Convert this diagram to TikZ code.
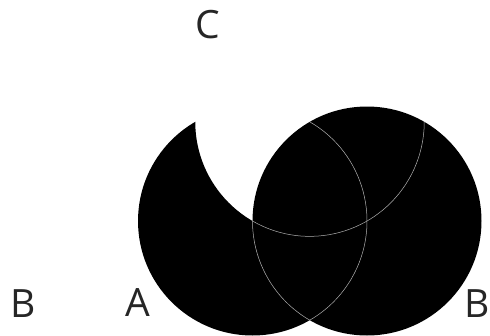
\documentclass[tikz,border=0pt]{standalone}
\usepackage{fontspec}
\setmainfont{Open Sans}
\begin{document}
\begin{tikzpicture}[x=1pt,y=1pt,
  lbl/.style={font=\fontsize{39}{41}\selectfont, text=black!85, inner sep=0pt},
  seam/.style={draw=gray!60, line width=0.5pt}]
\useasboundingbox (0,0) rectangle (490,-335);
\def\r{114.5}
\coordinate (a) at (252.5,-221);
\coordinate (b) at (367,-221);
\coordinate (c) at (309.75,-121.84);
% A minus C
\begin{scope}[even odd rule]
  \clip (-10,10) rectangle (500,-345) (c) circle[radius=\r];
  \fill[black] (a) circle[radius=\r];
\end{scope}
% B
\fill[black] (b) circle[radius=\r];
% seams
\draw[seam] (c) arc[start angle=60, end angle=-60, radius=\r];
\draw[seam] (a) arc[start angle=180, end angle=240, radius=\r];
\draw[seam] (a) arc[start angle=240, end angle=360, radius=\r];
% labels
\node[lbl] (lc) at (208,-25) {C};
\node[lbl] (lbl) at (23,-304) {B};
\node[lbl] (la) at (138,-303) {A};
\node[lbl] (lbr) at (477,-304) {B};
\end{tikzpicture}
\end{document}
